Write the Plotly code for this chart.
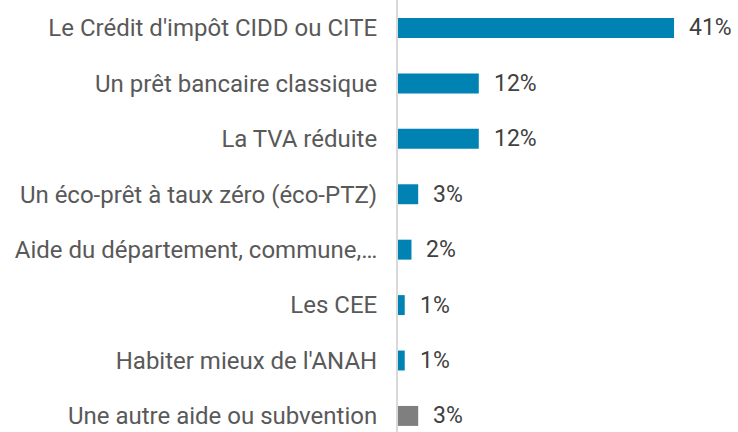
import plotly.graph_objects as go

categories = [
    "Le Crédit d'impôt CIDD ou CITE",
    "Un prêt bancaire classique",
    "La TVA réduite",
    "Un éco-prêt à taux zéro (éco-PTZ)",
    "Aide du département, commune,…",
    "Les CEE",
    "Habiter mieux de l'ANAH",
    "Une autre aide ou subvention",
]
values = [41, 12, 12, 3, 2, 1, 1, 3]
labels = ["41%", "12%", "12%", "3%", "2%", "1%", "1%", "3%"]
colors = ["#0083B3"] * 7 + ["#7F7F7F"]

fig = go.Figure(go.Bar(
    x=values, y=categories, orientation="h",
    marker=dict(color=colors, line=dict(width=0)),
    width=0.36, hoverinfo="skip",
))

for c, v, t in zip(categories, values, labels):
    fig.add_annotation(x=v, y=c, text=t, showarrow=False, xanchor="left",
                       xshift=13, font=dict(family="Roboto", size=23, color="#404040"))

fig.update_layout(
    width=738, height=432,
    margin=dict(l=398, r=0, t=0, b=0),
    plot_bgcolor="white", paper_bgcolor="white",
    showlegend=False,
    font=dict(family="Roboto", size=24, color="#595959"),
)
fig.update_xaxes(range=[0, 50.5], visible=False, showgrid=False, zeroline=False)
fig.update_yaxes(range=[7.29, -0.505], showgrid=False, zeroline=False,
                 showline=True, linecolor="#D9D9D9", linewidth=2,
                 ticks="", ticklabelstandoff=14,
                 tickfont=dict(family="Roboto", size=24, color="#595959"))

fig.write_html("out.html", config={"displayModeBar": False},
               post_script="document.body.style.margin='0';")
